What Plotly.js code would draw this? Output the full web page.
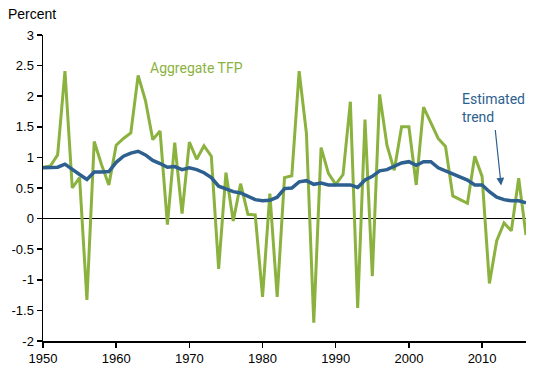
<!DOCTYPE html>
<html>
<head>
<meta charset="utf-8">
<script src="https://cdn.plot.ly/plotly-3.0.1.min.js"></script>
<style>html,body{margin:0;padding:0;background:#fff;}#chart{width:550px;height:365px;}</style>
</head>
<body>
<div id="chart"></div>
<script>
const years = [1950,1951,1952,1953,1954,1955,1956,1957,1958,1959,1960,1961,1962,1963,1964,1965,1966,1967,1968,1969,1970,1971,1972,1973,1974,1975,1976,1977,1978,1979,1980,1981,1982,1983,1984,1985,1986,1987,1988,1989,1990,1991,1992,1993,1994,1995,1996,1997,1998,1999,2000,2001,2002,2003,2004,2005,2006,2007,2008,2009,2010,2011,2012,2013,2014,2015,2016];
const tfp = [0.84,0.86,1.04,2.41,0.50,0.67,-1.33,1.26,0.88,0.55,1.20,1.31,1.40,2.34,1.93,1.29,1.43,-0.10,1.24,0.08,1.25,0.97,1.19,1.02,-0.82,0.75,-0.04,0.57,0.07,0.06,-1.28,0.41,-1.28,0.67,0.70,2.41,1.39,-1.70,1.16,0.74,0.56,0.72,1.91,-1.46,1.62,-0.94,2.03,1.20,0.79,1.50,1.50,0.55,1.82,1.57,1.31,1.18,0.37,0.31,0.25,1.02,0.69,-1.06,-0.36,-0.07,-0.20,0.66,-0.27];
const trend = [0.83,0.83,0.84,0.89,0.80,0.72,0.64,0.76,0.76,0.77,0.92,1.02,1.07,1.10,1.04,0.95,0.90,0.84,0.85,0.80,0.83,0.80,0.75,0.67,0.53,0.49,0.44,0.42,0.37,0.31,0.29,0.30,0.35,0.49,0.50,0.60,0.62,0.56,0.58,0.55,0.55,0.55,0.55,0.51,0.63,0.69,0.78,0.80,0.86,0.91,0.93,0.87,0.93,0.93,0.83,0.78,0.74,0.68,0.63,0.55,0.55,0.44,0.35,0.31,0.29,0.29,0.26];
const xTicks = [1950,1960,1970,1980,1990,2000,2010];
const yTicks = [-2,-1.5,-1,-0.5,0,0.5,1,1.5,2,2.5,3];

const green = '#8BB23F';
const blue = '#2D5F8F';

const data = [
  {x: years, y: tfp, type: 'scatter', mode: 'lines', line: {color: green, width: 3}, hoverinfo: 'skip'},
  {x: years, y: trend, type: 'scatter', mode: 'lines', line: {color: blue, width: 3.5}, hoverinfo: 'skip'}
];

const layout = {
  width: 550, height: 365,
  margin: {l: 43, r: 24, t: 35, b: 24},
  paper_bgcolor: '#fff', plot_bgcolor: '#fff',
  showlegend: false,
  font: {family: 'Liberation Sans, Arial, sans-serif', size: 13, color: '#000'},
  xaxis: {
    range: [1950, 2016], tickvals: xTicks, ticktext: xTicks.map(String),
    showgrid: false, zeroline: false, showline: true, linecolor: '#000', linewidth: 1.5,
    ticks: 'outside', ticklen: 5, tickcolor: '#000', tickwidth: 1.5,
    tickfont: {family: 'Liberation Sans, Arial, sans-serif', size: 13, color: '#000'}
  },
  yaxis: {
    range: [-2, 3], tickvals: yTicks, ticktext: yTicks.map(String),
    showgrid: false, zeroline: true, zerolinecolor: '#000', zerolinewidth: 1.2,
    showline: true, linecolor: '#000', linewidth: 1.5,
    ticks: 'outside', ticklen: 5, tickcolor: '#000', tickwidth: 1.5,
    tickfont: {family: 'Liberation Sans, Arial, sans-serif', size: 13, color: '#000'}
  },
  annotations: [
    {xref: 'paper', yref: 'paper', x: -0.077, y: 1.035, xanchor: 'left', yanchor: 'bottom',
     text: 'Percent', showarrow: false,
     font: {family: 'Liberation Sans, Arial, sans-serif', size: 14, color: '#000'}},
    {xref: 'x', yref: 'y', x: 1964.3, y: 2.46, xanchor: 'left', yanchor: 'middle',
     text: 'Aggregate TFP', showarrow: false,
     font: {family: 'Roboto, sans-serif', size: 14, color: green}},
    {xref: 'x', yref: 'y', x: 2007.0, y: 1.80, xanchor: 'left', yanchor: 'middle', align: 'left',
     text: 'Estimated<br>trend', showarrow: false,
     font: {family: 'Roboto, sans-serif', size: 14, color: blue}},
    {xref: 'x', yref: 'y', x: 2012.6, y: 0.54, text: '', showarrow: true,
     axref: 'pixel', ayref: 'pixel', ax: -6, ay: -57,
     arrowhead: 2, arrowsize: 1.3, arrowwidth: 1.2, arrowcolor: blue}
  ]
};

Plotly.newPlot('chart', data, layout, {staticPlot: true, displayModeBar: false});
</script>
</body>
</html>
